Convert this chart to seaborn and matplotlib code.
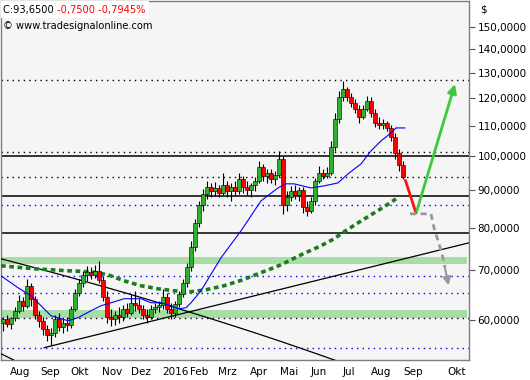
import numpy as np
import matplotlib
matplotlib.use('Agg')
import matplotlib.pyplot as plt
import matplotlib.transforms as mtransforms
from matplotlib.patches import Rectangle
import seaborn as sns
import pandas as pd

sns.set_style('white')
plt.rcParams['font.family'] = ['DejaVu Sans']

# ---------------- data ----------------
opens = [59.44, 60.19, 59.26, 60.38, 61.71, 63.67, 62.68, 66.73, 64.07, 60.95,
         59.81, 58.34, 57.25, 57.61, 60.19, 58.70, 59.44, 59.07, 62.10, 65.28,
         67.35, 69.06, 69.71, 69.06, 69.93, 67.99, 64.47, 60.57, 60.19, 60.95,
         60.57, 62.10, 61.33, 63.27, 62.88, 62.10, 60.95, 60.57, 62.10, 62.49,
         62.88, 64.47, 62.10, 61.33, 63.08, 65.08, 67.35, 70.81, 75.37, 81.24,
         85.94, 88.94, 90.91, 89.78, 90.62, 89.22, 91.48, 89.78, 90.91, 89.78,
         93.21, 90.91, 90.06, 91.48, 92.63, 96.78, 94.09, 94.98, 93.21, 94.38,
         99.23, 85.94, 88.11, 89.78, 88.66, 90.06, 85.40, 84.34, 87.02, 92.63,
         94.98, 94.09, 94.98, 103.02, 112.44, 120.46, 123.51, 120.46, 118.21, 116.02,
         113.15, 116.02, 118.96, 114.57, 111.04, 110.35, 111.04, 109.32, 106.29, 101.10,
         97.38]
highs = [60.57, 60.95, 60.57, 62.49, 64.88, 64.47, 68.20, 67.35, 64.67, 61.71,
         60.57, 59.07, 58.52, 60.95, 61.33, 60.19, 60.57, 62.68, 66.10, 68.20,
         69.93, 71.03, 70.81, 71.25, 72.15, 68.84, 65.69, 62.10, 61.71, 62.49,
         62.88, 63.27, 65.08, 65.69, 64.07, 62.88, 62.10, 62.88, 63.27, 63.67,
         66.10, 65.28, 63.27, 63.67, 65.69, 68.20, 71.70, 76.80, 82.26, 87.02,
         90.34, 92.63, 92.05, 92.34, 91.48, 94.98, 92.63, 92.05, 92.63, 94.98,
         94.09, 92.63, 92.05, 93.80, 98.61, 97.69, 96.17, 96.17, 95.57, 101.74,
         100.16, 89.78, 91.19, 91.48, 90.91, 90.91, 87.02, 88.11, 93.50, 97.08,
         96.17, 96.78, 104.97, 114.57, 122.74, 126.63, 124.28, 121.97, 119.70, 117.48,
         117.48, 120.83, 120.46, 116.02, 113.15, 112.44, 111.74, 110.35, 107.62, 102.38,
         98.61]
lows = [57.97, 58.70, 58.34, 59.81, 61.33, 61.71, 62.29, 62.68, 60.19, 58.70,
        57.25, 56.19, 55.49, 56.90, 57.97, 57.61, 57.97, 58.52, 61.71, 64.67,
        66.52, 67.78, 68.20, 68.41, 67.35, 63.67, 59.44, 58.89, 59.07, 59.44,
        59.81, 60.57, 60.95, 61.71, 61.33, 60.19, 59.44, 60.19, 61.33, 61.52,
        62.10, 61.33, 60.19, 60.57, 62.49, 64.47, 66.52, 69.93, 74.43, 80.23,
        84.34, 87.56, 88.11, 88.39, 88.11, 88.66, 88.11, 87.02, 88.66, 88.94,
        89.22, 88.66, 88.11, 89.78, 92.05, 92.63, 92.05, 92.05, 91.48, 93.80,
        83.56, 84.34, 87.02, 87.56, 87.02, 83.82, 83.04, 83.82, 85.94, 92.05,
        93.21, 93.50, 94.38, 101.74, 111.04, 118.96, 118.96, 116.74, 114.57, 111.04,
        112.44, 115.29, 113.15, 109.66, 108.98, 108.98, 108.30, 104.97, 99.23, 95.57,
        93.21]
closes = [60.19, 59.26, 60.38, 61.71, 63.67, 62.68, 66.73, 64.07, 60.95, 59.81,
          58.34, 57.25, 57.61, 60.19, 58.70, 59.44, 59.07, 62.10, 65.28, 67.35,
          69.06, 69.71, 69.06, 69.93, 67.99, 64.47, 60.57, 60.19, 60.95, 60.57,
          62.10, 61.33, 63.27, 62.88, 62.10, 60.95, 60.57, 62.10, 62.49, 62.88,
          64.47, 62.10, 61.33, 63.08, 65.08, 67.35, 70.81, 75.37, 81.24, 85.94,
          88.94, 90.91, 89.78, 90.62, 89.22, 91.48, 89.78, 90.91, 89.78, 93.21,
          90.91, 90.06, 91.48, 92.63, 96.78, 94.09, 94.98, 93.21, 94.38, 99.23,
          85.94, 88.11, 89.78, 88.66, 90.06, 85.40, 84.34, 87.02, 92.63, 94.98,
          94.09, 94.98, 103.02, 112.44, 120.46, 123.51, 120.46, 118.21, 116.02, 113.15,
          116.02, 118.96, 114.57, 111.04, 110.35, 111.04, 109.32, 106.29, 101.10, 97.38,
          93.65]

# moving averages (bar position, value)
ma_fast_pos = [-0.5, 3.75, 7, 9.5, 12, 16.25, 18.75, 22, 24.5, 27, 30.25, 34.5, 37, 39.5,
               42, 44, 45.75, 47, 49.5, 54.5, 59.5, 64.5, 68.75, 70.75, 72.75, 77, 80.25,
               83.75, 86.25, 89.5, 92, 94.5, 97, 98.25, 100.5]
ma_fast = [68.84, 66.31, 64.67, 62.68, 60.75, 59.81, 60.38, 61.71, 62.68, 63.27, 64.07,
           64.07, 63.27, 63.27, 62.68, 62.10, 62.29, 63.27, 65.69, 72.83, 79.24, 87.02,
           90.62, 91.78, 91.78, 90.62, 91.19, 92.05, 94.69, 97.69, 101.74, 104.97,
           107.62, 109.32, 109.32]
ma_slow_pos = [-0.5, 7.75, 16.25, 22, 26.25, 30.25, 34.5, 38.75, 42.75, 47, 50.75, 55.25,
               60, 63.75, 67, 69.5, 74.5, 79.5, 82.75, 85.25, 88.75, 92, 95.25, 98.25]
ma_slow = [71.03, 70.37, 69.93, 69.71, 69.06, 67.78, 66.73, 66.10, 65.69, 65.49, 65.90,
           66.73, 67.99, 69.28, 70.37, 71.25, 73.51, 75.61, 77.28, 78.99, 81.24, 83.30,
           85.40, 87.56]

month_pos = [1.25, 8.75, 16.25, 24.25, 31.5, 39.25, 46.25, 53.25, 61.25, 68.75, 76.5,
             84.5, 91.5, 99.5, 110.5]
month_labels = ['Aug', 'Sep', 'Okt', 'Nov', 'Dez', '2016', 'Feb', 'Mrz', 'Apr', 'Mai',
                'Jun', 'Jul', 'Aug', 'Sep', 'Okt']
price_ticks = [60, 70, 80, 90, 100, 110, 120, 130, 140, 150]

solid_levels = [100.0, 88.3, 78.7]
dotted_black_levels = [126.9, 101.5, 93.7, 60.3]
dotted_blue_levels = [85.9, 68.8, 65.2, 55.0]
green_zones = [(71.4, 73.1), (60.3, 61.9)]

# trend lines (bar position, price)
down_trend = [(-0.5, 72.6), (90.0, 51.2)]
up_trend = [(10.25, 54.97), (116.5, 76.32)]
low_trend = [(-0.5, 53.95), (6.0, 51.8)]

# scenario drawing
red_path_pos = [100.6, 103.25]
red_path = [92.8, 83.8]
green_arrow_pos = [103.4, 113.0]
green_arrow = [84.2, 125.4]
gray_path_pos = [101.75, 107.0, 107.75, 108.75, 109.75, 110.5]
gray_path = [83.56, 83.56, 79.99, 76.8, 73.74, 70.59]
gray_tip = (111.4, 66.8)

# ---------------- figure ----------------
W, H = 530, 380
fig = plt.figure(figsize=(W / 100, H / 100), dpi=100)
fig.patch.set_facecolor('white')
ax = fig.add_axes([1 / W, (H - 360) / H, 468 / W, 359 / H])
ax.set_facecolor('#f5f5f5')
ax.set_yscale('log')
ax.set_xlim(-0.5, 116.5)
ax.set_ylim(52.9, 162.6)

# zones and horizontal levels
for lo, hi in green_zones:
    ax.fill_between([-0.5, 116.0], lo, hi, color='#a6dea6', lw=0, zorder=1)
for lv in solid_levels:
    ax.axhline(lv, color='black', lw=1.1, zorder=2)
for lv in dotted_black_levels:
    ax.axhline(lv, color='black', lw=1.0, ls=(0, (1, 3)), zorder=2)
for lv in dotted_blue_levels:
    ax.axhline(lv, color='#0000ee', lw=1.0, ls=(0, (1, 3)), zorder=2)

# trend lines (down trend is linear in price -> curved on log scale)
(x0, y0), (x1, y1) = down_trend
tx = np.linspace(x0, x1, 60)
ax.plot(tx, np.interp(tx, [x0, x1], [y0, y1]), color='black', lw=0.9, zorder=3)
ax.plot([p[0] for p in up_trend], [p[1] for p in up_trend], color='black', lw=0.9, zorder=3)
ax.plot([p[0] for p in low_trend], [p[1] for p in low_trend], color='black', lw=0.9, zorder=3)

# moving averages via seaborn
sns.lineplot(x=ma_slow_pos, y=ma_slow, ax=ax, color='#1d7a1d', lw=2.6,
             linestyle=(0, (1.3, 1.0)), zorder=4, estimator=None, sort=False)
sns.lineplot(x=ma_fast_pos, y=ma_fast, ax=ax, color='#0000ff', lw=0.8, zorder=6,
             estimator=None, sort=False)

# candles
df = pd.DataFrame({'o': opens, 'h': highs, 'l': lows, 'c': closes})
df['x'] = np.arange(len(df))
up = df['c'] >= df['o']
ax.vlines(df['x'], df['l'], df['h'], color='black', lw=0.8, zorder=5)
body_lo = df[['o', 'c']].min(axis=1)
body_hi = df[['o', 'c']].max(axis=1)
colors = np.where(up, '#2fb02f', '#ff0000')
ax.bar(df['x'], body_hi - body_lo, bottom=body_lo, width=0.85, color=colors,
       edgecolor='black', linewidth=0.4, zorder=5)

# scenario
ax.plot(red_path_pos, red_path, color='#ff1010', lw=2.0, zorder=7)
ax.annotate('', xy=(green_arrow_pos[1], green_arrow[1]), xytext=(green_arrow_pos[0], green_arrow[0]),
            arrowprops=dict(arrowstyle='-|>', color='#3ec83e', lw=2.0, mutation_scale=13,
                            shrinkA=0, shrinkB=0), zorder=7)
ax.plot(gray_path_pos, gray_path, color='#999999', lw=2.0, ls=(0, (2.2, 1.6)), zorder=7)
ax.annotate('', xy=gray_tip, xytext=(gray_path_pos[-1], gray_path[-1]),
            arrowprops=dict(arrowstyle='-|>', color='#999999', lw=1.5, mutation_scale=12,
                            shrinkA=0, shrinkB=0), zorder=7)

# axes styling
for s in ax.spines.values():
    s.set_color('#7f7f7f')
    s.set_linewidth(1.0)
ax.yaxis.tick_right()
ax.set_yticks(price_ticks)
ax.set_yticklabels([f'{v},0000' for v in price_ticks])
ax.yaxis.set_minor_locator(matplotlib.ticker.NullLocator())
ax.set_xticks(month_pos)
ax.set_xticklabels(month_labels)
ax.tick_params(axis='both', direction='out', length=4, width=0.8, color='#555555',
               labelsize=7.5, pad=2, labelcolor='black')
ax.tick_params(axis='x', pad=1)
offset = mtransforms.ScaledTranslation(2 / 100, 0, fig.dpi_scale_trans)
for lab in ax.get_xticklabels():
    lab.set_horizontalalignment('left')
    lab.set_transform(lab.get_transform() + offset)
ax.set_xlabel('')
ax.set_ylabel('')

# header texts
fig.patches.append(Rectangle((1 / W, 1 - 18 / H), 148 / W, 17 / H, transform=fig.transFigure,
                             facecolor='white', edgecolor='none', zorder=10))
t1 = fig.text(3 / W, 1 - 10 / H, 'C:93,6500 ', fontsize=7.1, va='center', ha='left',
              color='black', zorder=11)
fig.canvas.draw()
renderer = fig.canvas.get_renderer()
bb = t1.get_window_extent(renderer)
fig.text(bb.x1 / fig.bbox.width, 1 - 10 / H, '-0,7500 -0,7945%', fontsize=7.1, va='center',
         ha='left', color='#ff0000', zorder=11)
fig.text(3 / W, 1 - 26 / H, '\u00a9 www.tradesignalonline.com', fontsize=7.1, va='center',
         ha='left', color='black', zorder=11)
fig.text(480 / W, 1 - 9 / H, '$', fontsize=7.5, va='center', ha='left', color='black')

fig.savefig('out.png', dpi=100)
